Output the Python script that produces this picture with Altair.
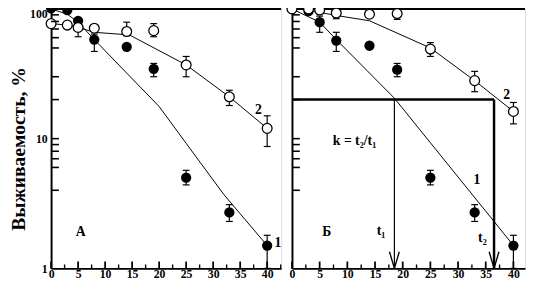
import altair as alt
import pandas as pd

# ---------------- data ----------------
t_pts = [0, 3, 5, 8, 14, 19, 25, 33, 40]
a_filled = [101, 98, 81, 58, 51, 34.5, 5.0, 2.7, 1.5]
a_open = [77, 75, 72, 71, 67, 68, 37, 21, 12]
b_filled = [100, 96, 79, 57, 52, 34, 5.0, 2.7, 1.5]
b_open = [100, 100, 98, 93, 91, 92, 49, 28, 16.2]

a_filled_err_t = [8, 19, 25, 33, 40]
a_filled_err_lo = [47, 30, 4.4, 2.3, 1.0]
a_filled_err_hi = [64, 38, 5.7, 3.1, 1.8]
a_open_err_t = [5, 14, 19, 25, 33, 40]
a_open_err_lo = [61, 62, 61, 30, 18, 8.7]
a_open_err_hi = [84, 79, 77, 43, 23.6, 15]
b_filled_err_t = [5, 8, 19, 25, 33, 40]
b_filled_err_lo = [66, 47, 30, 4.4, 2.3, 1.0]
b_filled_err_hi = [88, 66, 38, 5.7, 3.1, 1.8]
b_open_err_t = [8, 19, 25, 33, 40]
b_open_err_lo = [84, 83, 43, 23, 13]
b_open_err_hi = [100, 101, 55, 33, 19]

a_curve1_t = [0, 3, 5, 8, 14, 20, 25, 32, 40]
a_curve1_y = [100, 91, 79, 58, 32, 17.7, 9.2, 3.7, 1.5]
a_curve2_t = [0, 3, 5, 8, 14.5, 25, 33, 40]
a_curve2_y = [77, 75, 72, 66, 63, 37, 21, 12]
b_curve1_t = [0, 5, 8, 18.5, 25, 36.5, 40]
b_curve1_y = [100, 79, 58, 20.5, 9.3, 2.3, 1.5]
b_curve2_t = [0, 3, 5, 8, 14, 25, 33, 40]
b_curve2_y = [100, 98, 94, 89, 81, 50, 28, 16.2]

k_level = 20
t1 = 18.5
t2 = 36.5

a_text = ["А", "1", "2"]
a_text_x = [5.5, 42.0, 38.4]
a_text_y = [1.9, 1.56, 16.5]
b_text = ["Б", "t₁", "t₂", "1", "2", "k = t₂/t₁"]
b_text_x = [6.3, 16.1, 34.4, 33.4, 38.8, 11.3]
b_text_y = [1.9, 1.94, 1.7, 4.8, 21.7, 9.5]

x_major = [0, 5, 10, 15, 20, 25, 30, 35, 40]
x_minor = [2.5, 7.5, 12.5, 17.5, 22.5, 27.5, 32.5, 37.5, 42.5]
y_labels = [1, 10, 100]
y_minor = [4, 6, 7, 8, 9, 10, 20, 30, 50, 60, 70, 80, 90]

FONT = "Liberation Serif"
H = 265
W_A, XMAX_A = 235, 42.6
W_B, XMAX_B = 238, 42.1


def x_axis():
    return alt.Axis(values=x_major, format="d", ticks=False, domainWidth=2,
                    domainColor="black", grid=False, labelFont=FONT,
                    labelFontWeight="bold", labelFontSize=12, labelColor="black",
                    labelPadding=0, title=None, labelFlush=False)


def y_axis(left):
    if left:
        return alt.Axis(values=y_labels, format="d", ticks=False, domainWidth=2,
                        domainColor="black", grid=False, labelFont=FONT,
                        labelFontWeight="bold", labelFontSize=12, labelColor="black",
                        labelPadding=4,
                        labelOffset={"condition": {"test": "datum.value >= 100", "value": 5},
                                     "value": 0},
                        title="Выживаемость, %", titleFont=FONT,
                        titleFontWeight="bold", titleFontSize=20, titleColor="black",
                        titlePadding=1, titleY=H / 2 + 10)
    return alt.Axis(values=y_labels, labels=False, ticks=False, domainWidth=2,
                    domainColor="black", grid=False, title=None)


def make_panel(fil, opn, fe, oe, c1, c2, texts, width, xmax, left, extra=None):
    ys = alt.Scale(type="log", domain=[1, 100], nice=False)
    xs = alt.Scale(domain=[0, xmax], nice=False, zero=False)
    xaxis = x_axis()
    yaxis = y_axis(left)

    def X(f):
        return alt.X(f, type="quantitative", scale=xs, axis=xaxis)

    def Y(f):
        return alt.Y(f, type="quantitative", scale=ys, axis=yaxis)

    layers = []
    top = alt.Chart(pd.DataFrame({"y": [100]})).mark_rule(
        color="black", strokeWidth=2.5).encode(
        y=Y("y"), x=alt.value(0), x2=alt.value(width))
    layers.append(top)

    for (ct, cy) in (c1, c2):
        d = pd.DataFrame({"t": ct, "v": cy})
        layers.append(alt.Chart(d).mark_line(color="black", strokeWidth=1).encode(
            x=X("t"), y=Y("v")))

    for (et, lo, hi) in (fe, oe):
        d = pd.DataFrame({"t": et, "lo": lo, "hi": hi})
        layers.append(alt.Chart(d).mark_rule(color="black", strokeWidth=1.2).encode(
            x=X("t"), y=Y("lo"), y2="hi"))
        for f in ("lo", "hi"):
            layers.append(alt.Chart(d).mark_rule(
                color="black", strokeWidth=1.2, xOffset=-3.5, x2Offset=3.5).encode(
                x=X("t"), x2="t", y=Y(f)))

    if extra is not None:
        kd = pd.DataFrame({"x0": [0], "x1": [t2], "xt1": [t1], "k": [k_level], "b": [1]})
        layers.append(alt.Chart(kd).mark_rule(color="black", strokeWidth=2.5).encode(
            x=X("x0"), x2="x1", y=Y("k")))
        layers.append(alt.Chart(kd).mark_rule(color="black", strokeWidth=2.5).encode(
            x=X("x1"), y=Y("k"), y2="b"))
        layers.append(alt.Chart(kd).mark_rule(color="black", strokeWidth=1.2).encode(
            x=X("xt1"), y=Y("k"), y2="b"))
        for fx in ("xt1", "x1"):
            for off in (-5, 5):
                layers.append(alt.Chart(kd).mark_rule(
                    color="black", strokeWidth=1.4, x2Offset=off, y2Offset=-17).encode(
                    x=X(fx), x2=fx, y=Y("b"), y2="b"))

    d = pd.DataFrame({"t": t_pts, "v": fil})
    layers.append(alt.Chart(d).mark_point(
        shape="circle", filled=True, color="black", size=110, opacity=1).encode(
        x=X("t"), y=Y("v")))
    d = pd.DataFrame({"t": t_pts, "v": opn})
    layers.append(alt.Chart(d).mark_point(
        shape="circle", filled=True, fill="white", stroke="black", strokeWidth=1.3,
        size=100, opacity=1).encode(x=X("t"), y=Y("v")))

    # inward ticks
    d = pd.DataFrame({"v": y_minor})
    layers.append(alt.Chart(d).mark_rule(color="black", strokeWidth=1.6).encode(
        y=Y("v"), x=alt.value(0), x2=alt.value(8)))
    d = pd.DataFrame({"t": x_major})
    layers.append(alt.Chart(d).mark_rule(color="black", strokeWidth=1.8).encode(
        x=X("t"), y=alt.value(H), y2=alt.value(H - 7)))
    d = pd.DataFrame({"t": [v for v in x_minor if v <= xmax]})
    layers.append(alt.Chart(d).mark_rule(color="black", strokeWidth=1.4).encode(
        x=X("t"), y=alt.value(H), y2=alt.value(H - 4)))

    tl, tx, ty = texts
    d = pd.DataFrame({"s": tl, "t": tx, "v": ty})
    layers.append(alt.Chart(d).mark_text(
        font=FONT, fontWeight="bold", fontSize=14, color="black",
        align="center", baseline="middle").encode(
        x=X("t"), y=Y("v"), text="s:N"))

    return alt.layer(*layers).properties(width=width, height=H)


panel_a = make_panel(a_filled, a_open,
                     (a_filled_err_t, a_filled_err_lo, a_filled_err_hi),
                     (a_open_err_t, a_open_err_lo, a_open_err_hi),
                     (a_curve1_t, a_curve1_y), (a_curve2_t, a_curve2_y),
                     (a_text, a_text_x, a_text_y), W_A, XMAX_A, True)
panel_b = make_panel(b_filled, b_open,
                     (b_filled_err_t, b_filled_err_lo, b_filled_err_hi),
                     (b_open_err_t, b_open_err_lo, b_open_err_hi),
                     (b_curve1_t, b_curve1_y), (b_curve2_t, b_curve2_y),
                     (b_text, b_text_x, b_text_y), W_B, XMAX_B, False, extra=True)

chart = alt.hconcat(panel_a, panel_b, spacing=0).properties(
    padding={"top": -11, "left": 0, "right": 0, "bottom": 0}
).configure_view(stroke=None).configure(background="white")

chart.save("out.html", embed_options={"renderer": "svg", "actions": False})
